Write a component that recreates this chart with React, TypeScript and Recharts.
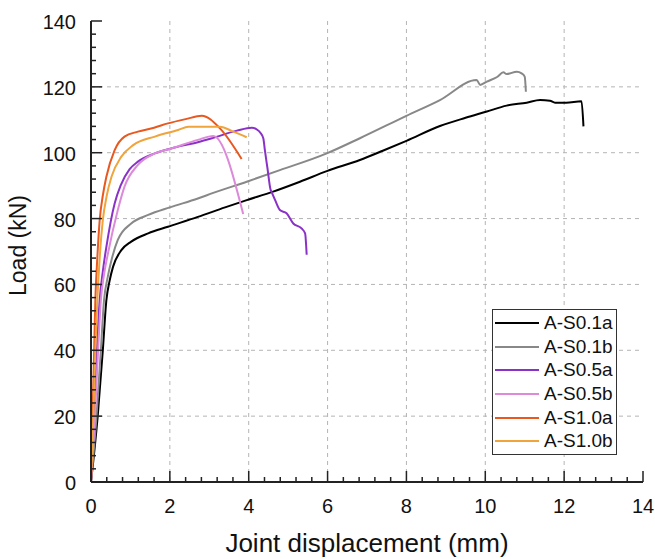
import { LineChart, Line, XAxis, YAxis, CartesianGrid, Legend, Label } from 'recharts'

const FONT = '"Liberation Sans", Arial, sans-serif'
const AXIS = '#222'

// tick values (minor every 0.4 / 4, majors every 2 / 20)
const xTicks = Array.from({ length: 36 }, (_, i) => Math.round(i * 4) / 10)
const yTicks = Array.from({ length: 36 }, (_, i) => i * 4)
const xGrid = [2, 4, 6, 8, 10, 12]
const yGrid = [20, 40, 60, 80, 100, 120]

const seriesNames = ['A-S0.1a', 'A-S0.1b', 'A-S0.5a', 'A-S0.5b', 'A-S1.0a', 'A-S1.0b']
const seriesColors = ['#000000', '#888888', '#8a32c8', '#dc8ad9', '#e8581f', '#efa43c']

// [displacement mm, load kN]
const s01a = [
  [0, 0], [0.17, 20], [0.3, 40], [0.39, 55.2], [0.47, 61], [0.56, 65.4], [0.77, 70.4], [1.02, 73],
  [1.45, 75.5], [1.95, 77.5], [2.71, 80.5], [3.4, 83.4], [3.95, 85.6],
  [4.62, 88.2], [5.3, 91.2], [5.98, 94.4], [6.82, 97.8], [7.4, 100.6], [8.0, 103.6], [8.85, 108.1],
  [9.5, 110.6], [10.04, 112.5], [10.54, 114.3], [11.05, 115.2], [11.39, 116.0], [11.64, 115.8],
  [11.77, 115.2], [12.05, 115.2], [12.44, 115.6], [12.49, 108],
]
const s01b = [
  [0, 0], [0.14, 20], [0.25, 40], [0.33, 55.2], [0.42, 62], [0.52, 67.4], [0.68, 73.5], [1.02, 78.5],
  [1.45, 81.1], [2.0, 83.4], [2.71, 86.1], [3.1, 87.8], [3.95, 91.2], [4.79, 94.7],
  [5.98, 99.8], [6.82, 104.4], [8.0, 111.2], [8.85, 116.0], [9.78, 122.1], [9.87, 120.6],
  [10.04, 121.6], [10.3, 123], [10.46, 124.4], [10.54, 123.9], [10.8, 124.6], [10.92, 124.1],
  [11.0, 123.1], [11.03, 118.5],
]
const s05a = [
  [0, 0], [0.08, 20], [0.15, 40], [0.22, 55.2], [0.3, 64], [0.39, 71.4], [0.6, 84.6], [0.75, 90],
  [0.98, 95], [1.19, 97.3], [1.62, 99.8], [2.26, 102], [2.71, 103.2], [3.1, 104.5], [3.7, 106.7],
  [4.08, 107.6], [4.2, 107.1], [4.3, 106], [4.37, 104.4], [4.41, 100.8],
  [4.48, 94.9], [4.55, 89], [4.58, 88.1], [4.67, 85.6], [4.79, 82.6], [4.96, 81.6], [5.13, 78.5],
  [5.34, 77.0], [5.43, 75.5], [5.47, 69],
]
const s05b = [
  [0, 0], [0.1, 20], [0.18, 40], [0.25, 55.2], [0.33, 63], [0.43, 69.4], [0.68, 82.6], [0.85, 89.7],
  [1.19, 96.3], [1.62, 99.8], [2.04, 101.3], [2.71, 103.9], [3.1, 105.1], [3.86, 81.4],
]
const s10a = [
  [0, 0], [0.04, 20], [0.08, 40], [0.11, 55.2], [0.16, 68], [0.22, 79.5], [0.3, 87], [0.39, 92.7],
  [0.6, 100.8], [0.85, 104.9], [1.19, 106.4], [1.6, 107.6], [1.95, 108.9],
  [2.4, 110.2], [2.81, 111.2], [3.27, 107.4], [3.82, 98.1],
]
const s10b = [
  [0, 0], [0.06, 20], [0.11, 40], [0.16, 55.2], [0.22, 68], [0.3, 79.5], [0.4, 87], [0.52, 92.7],
  [0.77, 98.8], [1.07, 102.3], [1.62, 104.9], [2.21, 106.9], [2.47, 107.9], [3.27, 107.9],
  [3.61, 106.4], [3.95, 104.7],
]

const seriesData = [s01a, s01b, s05a, s05b, s10a, s10b]

const isMajorX = (v: number) => Math.round(v * 10) % 20 === 0
const isMajorY = (v: number) => Math.round(v) % 20 === 0

const BottomTick = ({ x, y, payload }: any) => {
  const major = isMajorX(payload.value)
  return (
    <g>
      <line x1={x} x2={x} y1={y} y2={y - (major ? 11 : 5)} stroke={AXIS} strokeWidth={1.5} />
      {major && (
        <text x={x} y={y + 31} textAnchor="middle" fontSize={20} fontFamily={FONT} fill="#111">
          {payload.value}
        </text>
      )}
    </g>
  )
}

const TopTick = ({ x, y, payload }: any) => {
  const major = isMajorX(payload.value)
  return <line x1={x} x2={x} y1={y} y2={y + (major ? 11 : 5)} stroke={AXIS} strokeWidth={1.5} />
}

const LeftTick = ({ x, y, payload }: any) => {
  const major = isMajorY(payload.value)
  return (
    <g>
      <line x1={x} x2={x + (major ? 11 : 5)} y1={y} y2={y} stroke={AXIS} strokeWidth={1.5} />
      {major && (
        <text x={x - 15} y={y + 8} textAnchor="end" fontSize={20} fontFamily={FONT} fill="#111">
          {payload.value}
        </text>
      )}
    </g>
  )
}

const RightTick = ({ x, y, payload }: any) => {
  const major = isMajorY(payload.value)
  return <line x1={x} x2={x - (major ? 11 : 5)} y1={y} y2={y} stroke={AXIS} strokeWidth={1.5} />
}

const LegendBox = ({ payload }: any) => (
  <div
    style={{
      border: '1px solid #333',
      background: '#fff',
      padding: '1px 0 1px 2px',
      width: 121,
      fontFamily: FONT,
    }}
  >
    {(payload || []).map((p: any) => (
      <div key={p.value} style={{ display: 'flex', alignItems: 'center', height: 23.7 }}>
        <span style={{ width: 44, borderTop: `2px solid ${p.color}`, marginRight: 5 }} />
        <span style={{ fontSize: 19, color: '#111', lineHeight: '20px' }}>{p.value}</span>
      </div>
    ))}
  </div>
)

export default function App() {
  return (
    <div style={{ position: 'absolute', left: 0, top: 0, background: '#fff' }}>
      <LineChart width={655} height={559} margin={{ top: 21, right: 12, bottom: 27, left: 8 }}>
        <CartesianGrid
          stroke="#b4b4b4"
          strokeDasharray="4 4"
          strokeWidth={1}
          verticalValues={xGrid}
          horizontalValues={yGrid}
        />
        <XAxis
          dataKey="x"
          type="number"
          domain={[0, 14]}
          ticks={xTicks}
          interval={0}
          height={50}
          tickSize={0}
          tickMargin={0}
          tickLine={false}
          tick={<BottomTick />}
          axisLine={{ stroke: AXIS, strokeWidth: 2 }}
          allowDataOverflow
        >
          <Label
            content={({ viewBox }: any) => (
              <text
                x={viewBox.x + viewBox.width / 2}
                y={viewBox.y + 70}
                textAnchor="middle"
                fontSize={26}
                fontFamily={FONT}
                fill="#111"
              >
                Joint displacement (mm)
              </text>
            )}
          />
        </XAxis>
        <XAxis
          xAxisId="top"
          orientation="top"
          dataKey="x"
          type="number"
          domain={[0, 14]}
          ticks={xTicks}
          interval={0}
          height={0}
          tickSize={0}
          tickMargin={0}
          tickLine={false}
          tick={<TopTick />}
          axisLine={{ stroke: AXIS, strokeWidth: 2 }}
          allowDataOverflow
        />
        <YAxis
          type="number"
          domain={[0, 140]}
          ticks={yTicks}
          interval={0}
          width={83}
          tickSize={0}
          tickMargin={0}
          tickLine={false}
          tick={<LeftTick />}
          axisLine={{ stroke: AXIS, strokeWidth: 2 }}
          allowDataOverflow
        >
          <Label
            content={({ viewBox }: any) => {
              const cx = viewBox.x + 17.5
              const cy = viewBox.y + viewBox.height / 2 - 6
              return (
                <text
                  x={cx}
                  y={cy}
                  transform={`rotate(-90 ${cx} ${cy})`}
                  textAnchor="middle"
                  fontSize={23}
                  fontFamily={FONT}
                  fill="#111"
                >
                  Load (kN)
                </text>
              )
            }}
          />
        </YAxis>
        <YAxis
          yAxisId="right"
          orientation="right"
          type="number"
          domain={[0, 140]}
          ticks={yTicks}
          interval={0}
          width={0}
          tickSize={0}
          tickMargin={0}
          tickLine={false}
          tick={<RightTick />}
          axisLine={{ stroke: AXIS, strokeWidth: 2 }}
          allowDataOverflow
        />
        {seriesNames.map((name, i) => (
          <Line
            key={name}
            name={name}
            data={seriesData[i].map(([x, y]) => ({ x, y }))}
            dataKey="y"
            type="monotone"
            stroke={seriesColors[i]}
            strokeWidth={2}
            dot={false}
            activeDot={false}
            isAnimationActive={false}
          />
        ))}
        <Legend
          layout="horizontal"
          verticalAlign="middle"
          align="center"
          content={<LegendBox />}
          wrapperStyle={{ position: 'absolute', left: 492, top: 309, width: 'auto' }}
        />
      </LineChart>
    </div>
  )
}
